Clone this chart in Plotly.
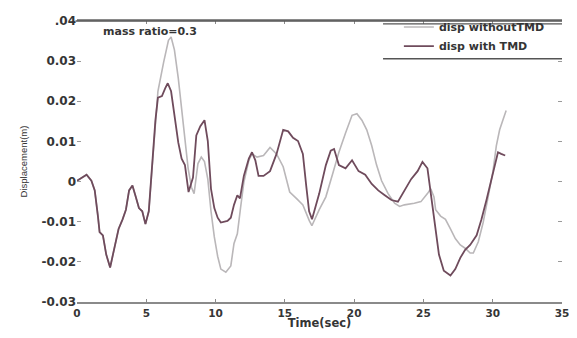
import plotly.graph_objects as go

# ---- data ----
time_with = [0, 0.69, 1.04, 1.28, 1.51, 1.63, 1.87, 2.11, 2.39, 2.70, 3.0, 3.29, 3.53, 3.76, 4.0,
             4.24, 4.47, 4.71, 4.94, 5.18, 5.42, 5.66, 5.84, 6.13, 6.37, 6.55, 6.79, 7.03, 7.31,
             7.55, 7.79, 8.05, 8.37, 8.61, 8.9, 9.2, 9.44, 9.67, 9.91, 10.15, 10.38, 10.86, 11.1,
             11.33, 11.57, 11.76, 12.04, 12.4, 12.63, 12.87, 13.1, 13.46, 13.93, 14.4, 14.88,
             15.24, 15.59, 15.95, 16.3, 16.54, 16.75, 16.96, 17.48, 17.96, 18.31, 18.55, 18.9,
             19.38, 19.85, 20.32, 20.8, 21.27, 21.74, 22.21, 22.69, 23.16, 23.63, 24.11, 24.58,
             24.93, 25.29, 25.64, 25.88, 26.12, 26.47, 26.95, 27.3, 27.66, 28.01, 28.37, 28.84,
             29.19, 29.55, 29.9, 30.14, 30.38, 30.61, 30.9]
disp_with = [0.0002, 0.0017, 0.0002, -0.0022, -0.0086, -0.0126, -0.0134, -0.0182, -0.0214, -0.0166,
             -0.0118, -0.0094, -0.0070, -0.0022, -0.0010, -0.0038, -0.0066, -0.0074, -0.0106,
             -0.0074, 0.0034, 0.0153, 0.0209, 0.0213, 0.0233, 0.0245, 0.0225, 0.0161, 0.0097,
             0.0057, 0.0041, -0.0026, 0.0010, 0.0115, 0.0138, 0.0153, 0.0101, -0.0018, -0.0066,
             -0.0090, -0.0102, -0.0098, -0.0090, -0.0058, -0.0034, -0.0042, 0.0014, 0.0057,
             0.0073, 0.0053, 0.0014, 0.0014, 0.0026, 0.0069, 0.0129, 0.0125, 0.0109, 0.0101,
             0.0069, -0.0010, -0.0074, -0.0094, -0.0030, 0.0041, 0.0077, 0.0081, 0.0041, 0.0033,
             0.0053, 0.0026, 0.0017, -0.0006, -0.0022, -0.0034, -0.0046, -0.0050, -0.0022,
             0.0006, 0.0026, 0.0049, 0.0033, -0.0054, -0.0126, -0.0182, -0.0222, -0.0234,
             -0.0218, -0.0190, -0.0170, -0.0158, -0.0134, -0.0094, -0.0046, 0.0002, 0.0041,
             0.0073, 0.0069, 0.0065]

time_without = [0, 0.69, 1.04, 1.28, 1.51, 1.63, 1.87, 2.11, 2.39, 2.70, 3.0, 3.29, 3.53, 3.76,
                4.0, 4.24, 4.47, 4.71, 4.94, 5.18, 5.42, 5.66, 5.84, 6.25, 6.6, 6.79, 7.03, 7.31,
                7.55, 7.79, 8.02, 8.26, 8.45, 8.73, 8.97, 9.2, 9.44, 9.67, 9.91, 10.15, 10.38,
                10.74, 11.1, 11.33, 11.57, 11.8, 12.04, 12.4, 12.63, 12.99, 13.46, 13.93, 14.4,
                14.88, 15.35, 15.83, 16.3, 16.77, 16.95, 17.48, 17.96, 18.43, 18.9, 19.38, 19.85,
                20.2, 20.56, 20.91, 21.27, 21.62, 21.98, 22.45, 22.92, 23.28, 23.63, 24.34, 24.82,
                25.29, 25.53, 25.76, 25.88, 26.24, 26.59, 26.95, 27.3, 27.66, 28.01, 28.37, 28.6,
                28.96, 29.31, 29.67, 30.02, 30.26, 30.5, 30.73, 30.97]
disp_without = [0.0002, 0.0017, 0.0002, -0.0022, -0.0086, -0.0126, -0.0134, -0.0182, -0.0214,
                -0.0166, -0.0118, -0.0094, -0.0070, -0.0022, -0.0010, -0.0038, -0.0066, -0.0074,
                -0.0106, -0.0074, 0.0034, 0.0153, 0.0225, 0.0297, 0.0352, 0.0360, 0.0328, 0.0257,
                0.0177, 0.0097, 0.0033, -0.0014, -0.0030, 0.0045, 0.0061, 0.0050, 0.0006, -0.0074,
                -0.0138, -0.0186, -0.0218, -0.0226, -0.0210, -0.0154, -0.0130, -0.0066, -0.0002,
                0.0053, 0.0069, 0.0061, 0.0065, 0.0085, 0.0069, 0.0037, -0.0026, -0.0042,
                -0.0058, -0.0098, -0.0110, -0.0070, -0.0038, 0.0017, 0.0073, 0.0121, 0.0165,
                0.0169, 0.0153, 0.0129, 0.0089, 0.0041, 0.0002, -0.0030, -0.0054, -0.0062,
                -0.0058, -0.0054, -0.0050, -0.0030, -0.0018, -0.0038, -0.0070, -0.0086, -0.0094,
                -0.0118, -0.0142, -0.0158, -0.0166, -0.0178, -0.0178, -0.0150, -0.0102, -0.0038,
                0.0026, 0.0089, 0.0129, 0.0153, 0.0177]

x_ticks = [0, 5, 10, 15, 20, 25, 30, 35]
y_ticks = [-0.03, -0.02, -0.01, 0, 0.01, 0.02, 0.03, 0.04]
y_tick_labels = ["-0.03", "-0.02", "-0.01", "0", "0.01", "0.02", "0.03", ".04"]
series_names = ["disp withoutTMD", "disp with TMD"]
annotation_text = "mass ratio=0.3"

assert len(time_with) == len(disp_with)
assert len(time_without) == len(disp_without)

WIDE = "DejaVu Sans, Verdana, sans-serif"
NARROW = "Liberation Sans, Arial, sans-serif"
TXT = "#353535"

fig = go.Figure()
fig.add_trace(go.Scatter(x=time_without, y=disp_without, mode="lines", name=series_names[0],
                         line=dict(color="#bab7b9", width=1.6)))
fig.add_trace(go.Scatter(x=time_with, y=disp_with, mode="lines", name=series_names[1],
                         line=dict(color="#6f4b5c", width=1.8)))

# the page body keeps an 8px margin; keep the page inside the window (no scrollbars)
fig.update_layout(
    width=561, height=322,
    margin=dict(l=69, r=7, t=5, b=28),
    paper_bgcolor="white", plot_bgcolor="white",
    font=dict(family=WIDE, size=10, color=TXT),
    showlegend=True,
    legend=dict(x=0.975, y=1.03, xanchor="right", yanchor="top",
                bgcolor="rgba(0,0,0,0)", borderwidth=0, tracegroupgap=0,
                font=dict(family=WIDE, size=11, color=TXT, weight="bold")),
    xaxis=dict(range=[0, 35], tickvals=x_ticks, showgrid=False, zeroline=False,
               automargin=False, ticklabeloverflow="allow",
               showline=True, linecolor="#8a8a8a", linewidth=2, mirror="allticks",
               ticks="inside", ticklen=3, tickcolor="#8a8a8a",
               tickfont=dict(family=WIDE, size=10.5, color=TXT, weight="bold"),
               title=dict(text="Time(sec)", standoff=0,
                          font=dict(family=WIDE, size=11.5, color=TXT, weight="bold"))),
    yaxis=dict(range=[-0.03, 0.04], tickvals=y_ticks, ticktext=y_tick_labels,
               automargin=False,
               showgrid=False, zeroline=False, showline=False, mirror="ticks",
               ticks="inside", ticklen=4, tickcolor="#9a9a9a", ticklabelstandoff=0,
               tickfont=dict(family=WIDE, size=12, color=TXT, weight="bold"),
               title=dict(text="Displacement(m)", standoff=12,
                          font=dict(family=NARROW, size=9.5, color=TXT))),
    annotations=[dict(x=5.3, y=0.0373, xref="x", yref="y", text=annotation_text,
                      showarrow=False, font=dict(family=WIDE, size=11, color=TXT, weight="bold"))],
    shapes=[
        dict(type="line", xref="paper", yref="paper", x0=-0.003, x1=1.0, y0=1.0, y1=1.0,
             line=dict(color="#555555", width=1.5)),
        dict(type="line", xref="paper", yref="paper", x0=0.631, x1=1.0, y0=0.99, y1=0.99,
             line=dict(color="#555555", width=1.2)),
        dict(type="line", xref="paper", yref="paper", x0=0.631, x1=1.0, y0=0.866, y1=0.866,
             line=dict(color="#555555", width=1.5)),
    ],
)

fig.write_html("out.html")
